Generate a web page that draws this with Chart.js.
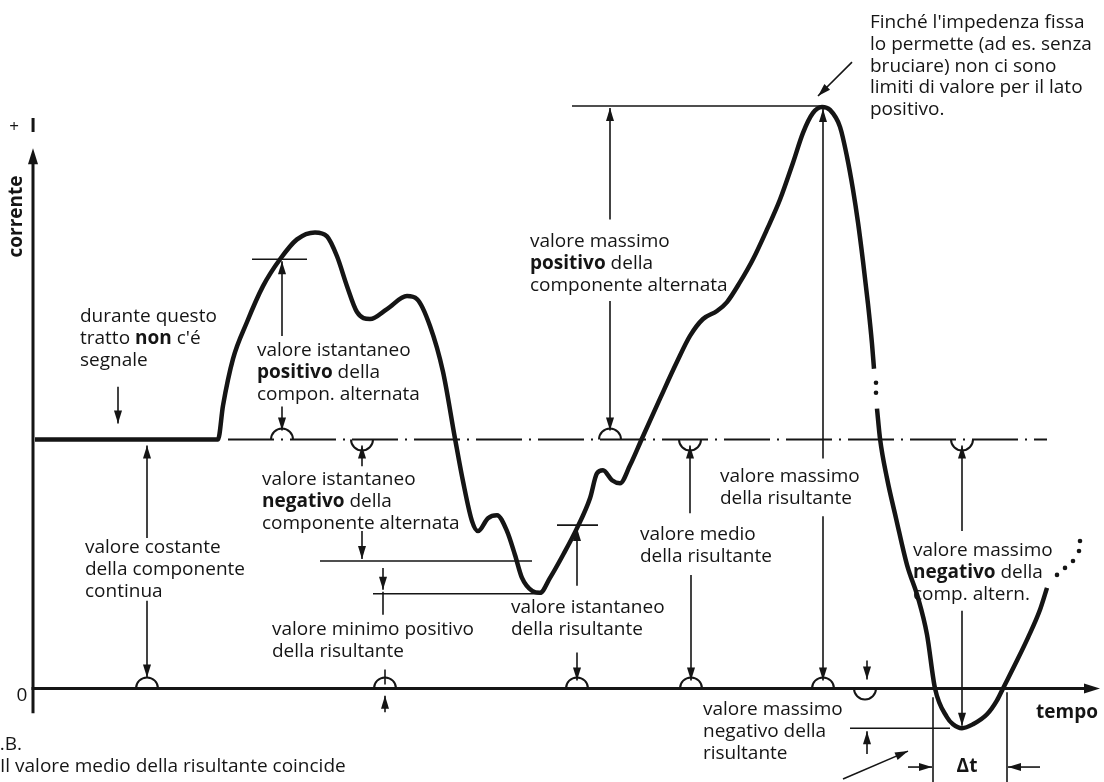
<!DOCTYPE html>
<html>
<head>
<meta charset="utf-8">
<script src="https://cdn.jsdelivr.net/npm/chart.js@4.4.0/dist/chart.umd.min.js"></script>
<style>
  html, body { margin: 0; padding: 0; background: #fff; }
  #wrap { width: 1104px; height: 782px; }
</style>
</head>
<body>
<div id="wrap"><canvas id="corrente" width="1104" height="782"></canvas></div>
<script>
// tempo (unità arbitrarie) e corrente (unità arbitrarie)
const tempoTratto1 = [0, 6.5, 12.5, 18.3, 18.8, 19.8, 21.2, 22.8, 24.5, 26.2, 28.0, 29.2, 30.2, 31.2, 32.2, 33.5, 35.2, 37.2, 38.2, 39.5, 40.8, 42.0, 42.8, 43.7, 44.3, 45.3, 46.2, 47.2, 48.0, 48.7, 49.7, 50.5, 51.5, 52.8, 54.2, 55.5, 56.2, 56.8, 57.7, 58.5, 59.5, 60.7, 62.5, 64.2, 65.5, 66.8, 68.2, 69.2, 70.5, 71.8, 73.2, 74.5, 75.8, 76.8, 77.8, 78.7, 79.5, 80.5, 81.2, 81.8, 82.3, 82.8, 83.3, 83.7, 83.9];
const correnteTratto1 = [10, 10, 10, 10, 11.36, 13.24, 14.72, 16.16, 17.24, 18.04, 18.32, 18.16, 17.36, 16.16, 15.12, 14.84, 15.24, 15.76, 15.64, 14.56, 12.72, 10.04, 8.32, 6.72, 6.32, 6.84, 6.96, 6.32, 5.36, 4.44, 3.92, 3.84, 4.44, 5.36, 6.44, 7.64, 8.64, 8.76, 8.36, 8.24, 8.96, 10.04, 11.64, 13.12, 14.16, 14.84, 15.16, 15.52, 16.32, 17.24, 18.44, 19.64, 21.12, 22.32, 23.12, 23.36, 23.24, 22.56, 21.36, 20.04, 18.72, 17.16, 15.44, 13.84, 12.84];
const tempoTratto2 = [84.2, 84.5, 85.2, 86.1, 87.2, 88.3, 89.2, 90.0, 91.2, 91.8, 92.7, 93.8, 95.2, 96.2, 96.8, 98.2, 99.3, 100.5, 101.2];
const correnteTratto2 = [11.24, 10.04, 8.44, 6.84, 4.96, 3.64, 2.16, 0, -1.16, -1.44, -1.6, -1.44, -1.04, -0.48, 0, 1.12, 2.04, 3.16, 4.04];
const tempoPunti = [84.1, 84.1, 102.2, 103.0, 103.8, 104.4, 104.5];
const correntePunti = [12.28, 11.88, 4.56, 4.84, 5.12, 5.52, 5.92];
const livelloContinuo = 10;
const tempoContinuo = [19.3, 101.2];

const INK = '#151515';
const FONT = '"Open Sans", "DejaVu Sans", sans-serif';

const punti = (ts, vs) => ts.map((t, k) => ({ x: t, y: vs[k] }));

// linee semplici [t0, i0, t1, i1]
const linee = [
  [21.7, 17.24, 27.2, 17.24],
  [28.5, 5.12, 49.7, 5.12],
  [33.8, 3.8, 50.5, 3.8],
  [34.8, 3.88, 34.8, 2.96],
  [35.0, 0.76, 35.0, 0.16],
  [52.2, 6.56, 56.3, 6.56],
  [53.7, 23.4, 78.8, 23.4],
  [81.5, -1.6, 91.5, -1.6],
  [89.8, -0.36, 89.8, -3.8],
  [97.2, -0.16, 97.2, -3.8],
];

// frecce [t0, i0, t1, i1], punta in (t1, i1)
const frecce = [
  [8.3, 12.12, 8.3, 10.64],
  [11.2, 6.04, 11.2, 9.76],
  [11.2, 3.52, 11.2, 0.44],
  [24.7, 14.16, 24.7, 17.16],
  [24.7, 11.32, 24.7, 10.36],
  [32.7, 8.92, 32.7, 9.76],
  [32.7, 6.32, 32.7, 5.2],
  [34.8, 4.84, 34.8, 3.96],
  [35.0, -0.96, 35.0, -0.3],
  [54.2, 4.12, 54.2, 6.44],
  [54.2, 1.44, 54.2, 0.32],
  [57.5, 18.84, 57.5, 23.32],
  [57.5, 15.56, 57.5, 10.36],
  [65.5, 7.04, 65.5, 9.76],
  [65.6, 4.56, 65.6, 0.32],
  [78.8, 9.24, 78.8, 23.28],
  [78.8, 6.92, 78.8, 0.32],
  [92.7, 6.32, 92.7, 9.76],
  [92.7, 3.12, 92.7, -1.5],
  [83.2, 1.12, 83.2, 0.36],
  [83.2, -2.64, 83.2, -1.72],
  [80.8, -3.64, 87.3, -2.52],
  [87.3, -3.16, 89.7, -3.16],
  [100.5, -3.16, 97.3, -3.16],
  [81.7, 25.16, 78.3, 23.8],
];

// archetti [t, i, verso l'alto]
const archi = [
  [11.2, 0, true], [24.7, 10, true], [32.7, 10, false], [35.0, 0, true],
  [54.2, 0, true], [57.5, 10, true], [65.5, 10, false], [65.6, 0, true],
  [78.8, 0, true], [92.7, 10, false], [83.0, 0, false],
];

// blocchi di testo: *grassetto*
const testi = [
  { t: 4.5, i: 14.92, righe: ['durante questo', "tratto *non* c'é", 'segnale'] },
  { t: 5.0, i: 5.64, righe: ['valore costante', 'della componente', 'continua'] },
  { t: 22.2, i: 13.56, righe: ['valore istantaneo', '*positivo* della', 'compon. alternata'] },
  { t: 22.7, i: 8.4, righe: ['valore istantaneo', '*negativo* della', 'componente alternata'] },
  { t: 23.7, i: 2.36, righe: ['valore minimo positivo', 'della risultante'] },
  { t: 47.6, i: 3.24, righe: ['valore istantaneo', 'della risultante'] },
  { t: 49.5, i: 17.96, righe: ['valore massimo', '*positivo* della', 'componente alternata'] },
  { t: 60.5, i: 6.16, righe: ['valore medio', 'della risultante'] },
  { t: 68.5, i: 8.52, righe: ['valore massimo', 'della risultante'] },
  { t: 87.8, i: 5.52, righe: ['valore massimo', '*negativo* della', 'comp. altern.'] },
  { t: 66.8, i: -0.84, righe: ['valore massimo', 'negativo della', 'risultante'] },
  { t: 83.5, i: 26.76, righe: ["Finché l'impedenza fissa", 'lo permette (ad es. senza', 'bruciare) non ci sono', 'limiti di valore per il lato', 'positivo.'] },
  { t: -4.95, i: -2.24, righe: ['N.B.'] },
  { t: -3.5, i: -3.16, righe: ['Il valore medio della risultante coincide'] },
];

const annotazioni = {
  id: 'annotazioni',
  afterDatasetsDraw(chart) {
    const { ctx, scales: { x, y } } = chart;
    const px = t => x.getPixelForValue(t);
    const py = v => y.getPixelForValue(v);
    ctx.save();
    ctx.strokeStyle = INK;
    ctx.fillStyle = INK;

    const punta = (x0, y0, x1, y1, len, w) => {
      const a = Math.atan2(y1 - y0, x1 - x0);
      ctx.beginPath();
      ctx.moveTo(x1, y1);
      ctx.lineTo(x1 - len * Math.cos(a) + w * Math.sin(a), y1 - len * Math.sin(a) - w * Math.cos(a));
      ctx.lineTo(x1 - len * Math.cos(a) - w * Math.sin(a), y1 - len * Math.sin(a) + w * Math.cos(a));
      ctx.closePath();
      ctx.fill();
    };
    const segmento = (x0, y0, x1, y1) => {
      ctx.beginPath();
      ctx.moveTo(x0, y0);
      ctx.lineTo(x1, y1);
      ctx.stroke();
    };

    // assi
    ctx.lineWidth = 3;
    segmento(px(-0.2), py(-1), px(-0.2), py(21.2));
    punta(px(-0.2), py(0), px(-0.2), py(21.7), 16, 5);
    segmento(px(-0.35), py(0), px(106), py(0));
    punta(px(0), py(0), px(106.5), py(0), 16, 5);

    ctx.lineWidth = 1.6;
    linee.forEach(([t0, i0, t1, i1]) => segmento(px(t0), py(i0), px(t1), py(i1)));
    frecce.forEach(([t0, i0, t1, i1]) => {
      segmento(px(t0), py(i0), px(t1), py(i1));
      punta(px(t0), py(i0), px(t1), py(i1), 13, 4);
    });
    ctx.lineWidth = 2;
    archi.forEach(([t, i, su]) => {
      ctx.beginPath();
      if (su) ctx.arc(px(t), py(i), 11, Math.PI, 2 * Math.PI);
      else ctx.arc(px(t), py(i), 11, 0, Math.PI);
      ctx.stroke();
    });

    // testi
    ctx.textBaseline = 'middle';
    ctx.textAlign = 'left';
    const passo = 0.88;
    testi.forEach(({ t, i, righe }) => {
      righe.forEach((riga, k) => {
        let cx = px(t);
        const cy = py(i - k * passo);
        riga.split('*').forEach((pezzo, j) => {
          ctx.font = (j % 2 ? 'bold ' : '') + '19px ' + FONT;
          ctx.fillText(pezzo, cx, cy);
          cx += ctx.measureText(pezzo).width;
        });
      });
    });

    ctx.font = '17px ' + FONT;
    ctx.textAlign = 'center';
    ctx.fillText('+', px(-2.1), py(22.56));
    ctx.font = 'bold 20px ' + FONT;
    ctx.fillText('I', px(-0.2), py(22.6));
    ctx.font = '19px ' + FONT;
    ctx.fillText('0', px(-1.3), py(-0.28));
    ctx.font = 'bold 19px ' + FONT;
    ctx.fillText('Δt', px(93.2), py(-3.16));
    ctx.textAlign = 'right';
    ctx.fillText('tempo', px(106.3), py(-0.96));

    ctx.save();
    ctx.translate(px(-1.8), py(18.96));
    ctx.rotate(-Math.PI / 2);
    ctx.textAlign = 'center';
    ctx.fillText('corrente', 0, 0);
    ctx.restore();

    ctx.restore();
  }
};

new Chart(document.getElementById('corrente'), {
  type: 'line',
  data: {
    datasets: [
      {
        data: punti(tempoTratto1, correnteTratto1),
        borderColor: INK, borderWidth: 4.5, pointRadius: 0,
        cubicInterpolationMode: 'monotone', clip: false,
      },
      {
        data: punti(tempoTratto2, correnteTratto2),
        borderColor: INK, borderWidth: 4.5, pointRadius: 0,
        cubicInterpolationMode: 'monotone', clip: false,
      },
      {
        data: punti(tempoPunti, correntePunti),
        showLine: false, pointRadius: 2.3, pointBorderWidth: 0,
        pointBackgroundColor: INK, clip: false,
      },
      {
        data: tempoContinuo.map(t => ({ x: t, y: livelloContinuo })),
        borderColor: INK, borderWidth: 2, pointRadius: 0,
        borderDash: [46, 7, 2, 7], clip: false,
      },
    ],
  },
  options: {
    responsive: false,
    animation: false,
    layout: { padding: { left: 35, right: 4, top: 91, bottom: 1 } },
    scales: {
      x: { type: 'linear', min: 0, max: 106.5, display: false },
      y: { type: 'linear', min: -3.6, max: 24, display: false },
    },
    plugins: { legend: { display: false }, tooltip: { enabled: false } },
  },
  plugins: [annotazioni],
});
</script>
</body>
</html>
